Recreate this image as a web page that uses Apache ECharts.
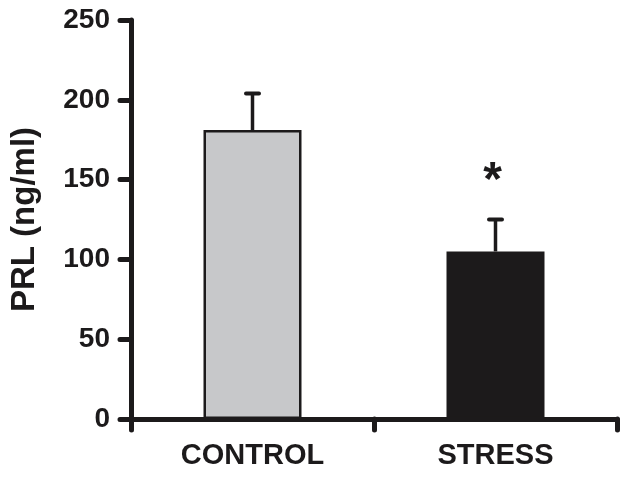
<!DOCTYPE html>
<html>
<head>
<meta charset="utf-8">
<script src="https://cdn.jsdelivr.net/npm/echarts@6/dist/echarts.min.js"></script>
<style>
  html, body { margin: 0; padding: 0; background: #fff; }
  #chart { width: 629px; height: 479px; }
</style>
</head>
<body>
<div id="chart"></div>
<script>
// groups and PRL values (mean, SEM)
var groups = ["CONTROL", "STRESS"];
var means = [181, 105];
var sems = [23, 20];
var marks = ["", "*"];
var yTicks = [0, 50, 100, 150, 200, 250];

var ink = "#1c1a1b";
var fills = ["#c7c8ca", "#1c1a1b"];

var chart = echarts.init(document.getElementById("chart"));

chart.setOption({
  animation: false,
  grid: { left: 131, right: 12, top: 20, bottom: 60 },
  xAxis: {
    type: "category",
    data: groups,
    boundaryGap: true,
    axisLine: { lineStyle: { color: ink, width: 5 } },
    axisTick: { show: true, length: 11, lineStyle: { color: ink, width: 5, cap: "round" } },
    axisLabel: {
      color: ink, fontFamily: "Liberation Sans", fontWeight: "bold", fontSize: 29, margin: 22
    }
  },
  yAxis: {
    type: "value",
    min: yTicks[0],
    max: yTicks[yTicks.length - 1],
    interval: 50,
    name: "PRL (ng/ml)",
    nameLocation: "middle",
    nameGap: 90,
    nameTextStyle: { color: ink, fontFamily: "Liberation Sans", fontWeight: "bold", fontSize: 33 },
    splitLine: { show: false },
    axisLine: { show: true, lineStyle: { color: ink, width: 5 } },
    axisTick: { show: true, length: 11, lineStyle: { color: ink, width: 5, cap: "round" } },
    axisLabel: {
      color: ink, fontFamily: "Liberation Sans", fontWeight: "bold", fontSize: 28, margin: 21
    }
  },
  series: [
    {
      type: "bar",
      barWidth: 98,
      data: means.map(function (v, i) {
        return { value: v, itemStyle: { color: fills[i], borderColor: ink, borderWidth: 2.5 } };
      }),
      z: 2
    },
    {
      type: "custom",
      z: 3,
      data: means.map(function (v, i) { return [i, v, v + sems[i]]; }),
      renderItem: function (params, api) {
        var i = api.value(0);
        var base = api.coord([i, api.value(1)]);
        var top = api.coord([i, api.value(2)]);
        var half = 6.5;
        var children = [
          { type: "line", shape: { x1: base[0], y1: base[1], x2: top[0], y2: top[1] },
            style: { stroke: ink, lineWidth: 3.5 } },
          { type: "line", shape: { x1: top[0] - half, y1: top[1], x2: top[0] + half, y2: top[1] },
            style: { stroke: ink, lineWidth: 4, lineCap: "round" } }
        ];
        if (marks[i]) {
          children.push({
            type: "text",
            x: top[0] - 3,
            y: top[1] - 38,
            style: {
              text: marks[i], fill: ink, fontFamily: "Liberation Sans", fontWeight: "bold",
              fontSize: 48, align: "center", verticalAlign: "middle"
            }
          });
        }
        return { type: "group", children: children };
      }
    }
  ]
});
</script>
</body>
</html>
